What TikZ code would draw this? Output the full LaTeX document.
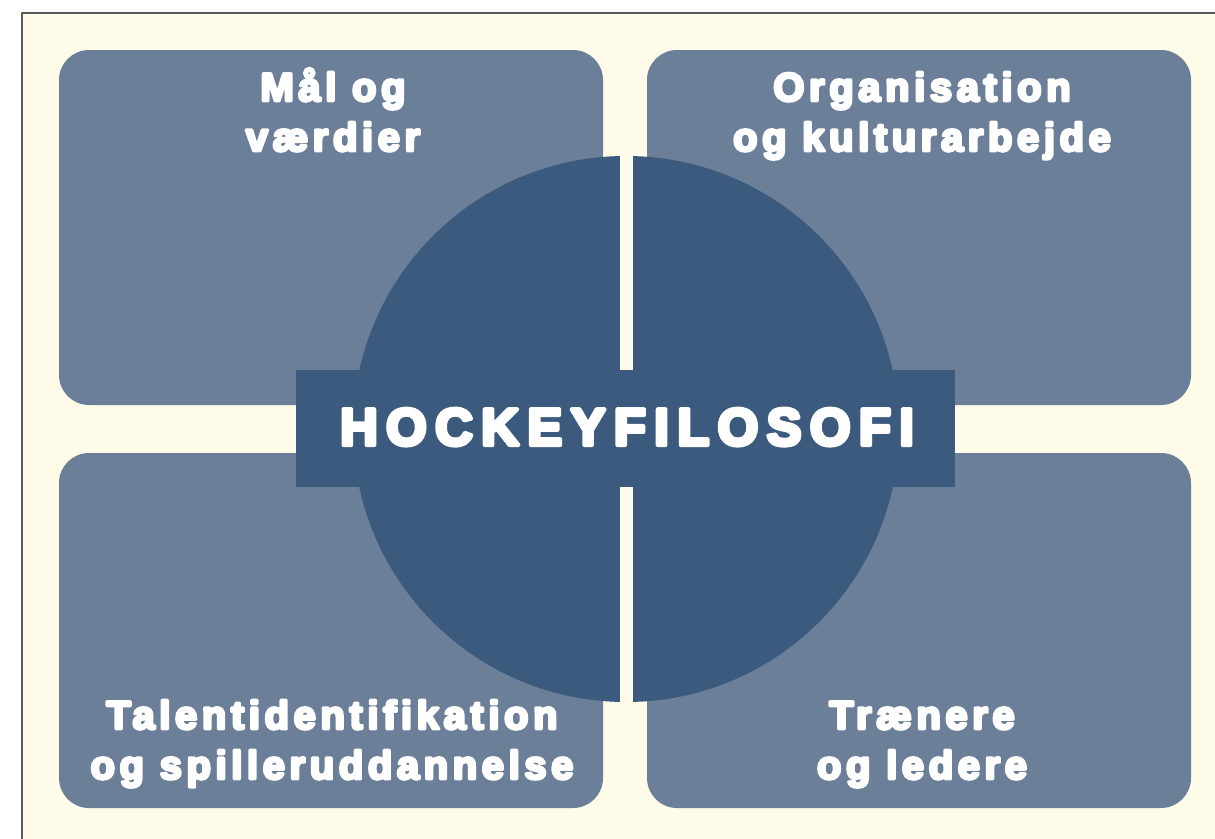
\documentclass[tikz,border=0pt]{standalone}
\usepackage{fontspec}
\setmainfont{Liberation Sans}
\newfontfamily\tyk{Liberation Sans Bold}[FakeBold=7, LetterSpace=11.5]
\newfontfamily\tykbred{Liberation Sans Bold}[FakeBold=8, LetterSpace=16.5]
\definecolor{creme}{HTML}{FEFBE8}
\definecolor{boks}{HTML}{6B7F99}
\definecolor{kerne}{HTML}{3C5A7E}
\tikzset{
  felt/.style={fill=boks, rounded corners=30pt, minimum width=544pt,
    minimum height=355pt, inner sep=0pt},
  tekst/.style={text=white, font=\tyk\fontsize{40}{50}\selectfont,
    align=center, anchor=base, inner sep=0pt}
}
\begin{document}
\begin{tikzpicture}[x=1pt, y=-1pt, line join=round]
  \useasboundingbox (0,0) rectangle (1215,838);
  \fill[white] (0,0) rectangle (1215,838);
  \draw[gray!70!black, line width=1.3pt, fill=creme] (22,13) rectangle (1240,860);
  %\draw[gray!50] (0,0) grid[step=100] (1215,838);
  \path
  (626,429) coordinate (O)
  ;
  \foreach \n/\x/\y in {mv/331/227.5, ok/919/227.5, ts/331/630.5, tl/919/630.5}
  \node[felt] (\n) at (\x,\y) {};
  \fill[kerne] (O) circle (273pt);
  \fill[creme] (619.5,150) rectangle (632.5,710);
  \node[fill=kerne, minimum width=659pt, minimum height=117pt] (hf) at (625.5,428.5) {};
  \node[text=white, font=\tykbred\fontsize{52}{60}\selectfont, anchor=base,
    inner sep=0pt] (hft) at (627,445) {HOCKEYFILOSOFI};
  % anchor=base sidder paa sidste linje
  \node[tekst] (t1) at (333,151) {Mål og\\værdier};
  \node[tekst] (t2) at (922,151) {Organisation\\og kulturarbejde};
  \node[tekst] (t3) at (332,779) {Talentidentifikation\\og spilleruddannelse};
  \node[tekst] (t4) at (922,779) {Trænere\\og ledere};
\end{tikzpicture}
\end{document}
